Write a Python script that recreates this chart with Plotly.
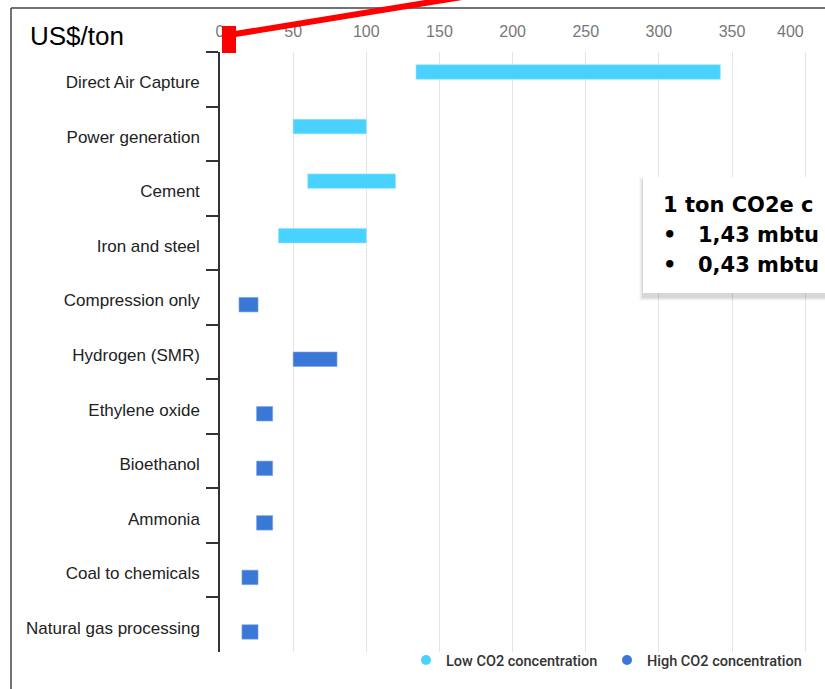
import plotly.graph_objects as go

# ---------------- data ----------------
categories = ["Direct Air Capture", "Power generation", "Cement", "Iron and steel",
              "Compression only", "Hydrogen (SMR)", "Ethylene oxide", "Bioethanol",
              "Ammonia", "Coal to chemicals", "Natural gas processing"]
low_start = [134, 50, 60, 40, None, None, None, None, None, None, None]
low_end = [342, 100, 120, 100, None, None, None, None, None, None, None]
high_start = [None, None, None, None, 13, 50, 25, 25, 25, 15, 15]
high_end = [None, None, None, None, 26, 80, 36, 36, 36, 26, 26]
x_ticks = [0, 50, 100, 150, 200, 250, 300, 350, 400]
series_names = ["Low CO2 concentration", "High CO2 concentration"]
box_lines = ["1 ton CO2e c", "1,43 mbtu", "0,43 mbtu"]

LOW_C = "#4ad2fe"
HIGH_C = "#3a78d8"

W, H = 825, 689
ML, MR, MT, MB = 220, 0, 52, 37
PW, PH = W - ML - MR, H - MT - MB


def px(x):
    return (x - ML) / PW


def py(y):
    return (H - MB - y) / PH


def widths(s, e):
    return [None if a is None else b - a for a, b in zip(s, e)]


fig = go.Figure()
fig.add_trace(go.Bar(y=categories, x=widths(low_start, low_end), base=low_start,
                     orientation="h", marker=dict(color=LOW_C, line=dict(color="#8fe2ff", width=0.6)),
                     name=series_names[0], showlegend=False))
fig.add_trace(go.Bar(y=categories, x=widths(high_start, high_end), base=high_start,
                     orientation="h", marker=dict(color=HIGH_C, line=dict(color="#7aa3e6", width=0.6)),
                     name=series_names[1], showlegend=False))
# legend entries with round markers
for nm, c in zip(series_names, [LOW_C, HIGH_C]):
    fig.add_trace(go.Scatter(x=[None], y=[None], mode="markers", name=nm,
                             marker=dict(color=c, size=10, symbol="circle")))

shapes = []
# frame
shapes.append(dict(type="line", xref="paper", yref="paper", x0=px(11), x1=px(11), y0=py(8), y1=py(700),
                   line=dict(color="#444444", width=1.5)))
shapes.append(dict(type="line", xref="paper", yref="paper", x0=px(11), x1=px(840), y0=py(8), y1=py(8),
                   line=dict(color="#444444", width=1.5)))
# shadow of box
for i, a in enumerate([0.025, 0.035, 0.045, 0.06]):
    d = 4 - i
    shapes.append(dict(type="rect", xref="paper", yref="paper", layer="above",
                       x0=px(643 - d), x1=px(900), y0=py(177 - d + 4), y1=py(293 + d + 4),
                       line=dict(width=0), fillcolor=f"rgba(0,0,0,{a})"))
shapes.append(dict(type="rect", xref="paper", yref="paper", layer="above",
                   x0=px(643), x1=px(900), y0=py(177), y1=py(293),
                   line=dict(width=0), fillcolor="white"))
# red pointer
shapes.append(dict(type="line", xref="paper", yref="paper", layer="above",
                   x0=px(229), y0=py(35), x1=px(462), y1=py(-3),
                   line=dict(color="#ff0000", width=6)))
shapes.append(dict(type="rect", xref="paper", yref="paper", layer="above",
                   x0=px(222), x1=px(236), y0=py(26), y1=py(53),
                   line=dict(width=0), fillcolor="#ff0000"))

annotations = []
annotations.append(dict(text="US$/ton", xref="paper", yref="paper", x=px(28), y=py(36),
                        xanchor="left", yanchor="middle", showarrow=False,
                        font=dict(family="Liberation Sans, Arial", size=26, color="#000000")))
annotations.append(dict(text="400", xref="x", yref="paper", x=400, y=py(31), xshift=-15,
                        xanchor="center", yanchor="middle", showarrow=False,
                        font=dict(family="Liberation Sans, Arial", size=16, color="#777777")))
bf = dict(family="DejaVu Sans", size=21, color="#000000")
annotations.append(dict(text="<b>" + box_lines[0] + "</b>", xref="paper", yref="paper", x=px(661), y=py(205),
                        xanchor="left", yanchor="middle", showarrow=False, font=bf))
for k, t in enumerate(box_lines[1:]):
    yy = 235 + 30 * k
    annotations.append(dict(text="<b>•</b>", xref="paper", yref="paper", x=px(661), y=py(yy),
                            xanchor="left", yanchor="middle", showarrow=False, font=bf))
    annotations.append(dict(text="<b>" + t + "</b>", xref="paper", yref="paper", x=px(696), y=py(yy),
                            xanchor="left", yanchor="middle", showarrow=False, font=bf))

fig.update_layout(
    width=W, height=H,
    margin=dict(l=ML, r=MR, t=MT, b=MB, pad=0),
    paper_bgcolor="white", plot_bgcolor="white",
    barmode="group", bargap=0.47, bargroupgap=0,
    shapes=shapes, annotations=annotations,
    showlegend=True,
    legend=dict(orientation="h", x=px(406), y=py(644), xanchor="left", yanchor="top",
                font=dict(family="Roboto", size=14.5, color="#333333", weight=500),
                itemwidth=30, entrywidth=156, entrywidthmode="pixels",
                bgcolor="rgba(0,0,0,0)"),
    xaxis=dict(side="top", range=[0, PW / 1.4629], tickvals=x_ticks,
               ticktext=[str(v) if v != 400 else "" for v in x_ticks],
               showgrid=True, gridcolor="#e4e4e4", gridwidth=1, zeroline=False,
               showline=False, ticks="outside", ticklen=8, tickcolor="rgba(0,0,0,0)",
               tickfont=dict(family="Liberation Sans, Arial", size=16, color="#777777"),
               fixedrange=True),
    yaxis=dict(categoryorder="array", categoryarray=categories, autorange="reversed",
               showline=True, linecolor="#333333", linewidth=1.5,
               ticks="outside", tickson="boundaries", ticklen=12, tickcolor="#333333", tickwidth=1.5,
               showgrid=False, zeroline=False,
               tickfont=dict(family="Liberation Sans, Arial", size=17, color="#222222"),
               ticklabelstandoff=15, ticklabelshift=-3),
)

fig.write_html("out.html", config={"displayModeBar": False},
               post_script="document.body.style.margin='0';")
